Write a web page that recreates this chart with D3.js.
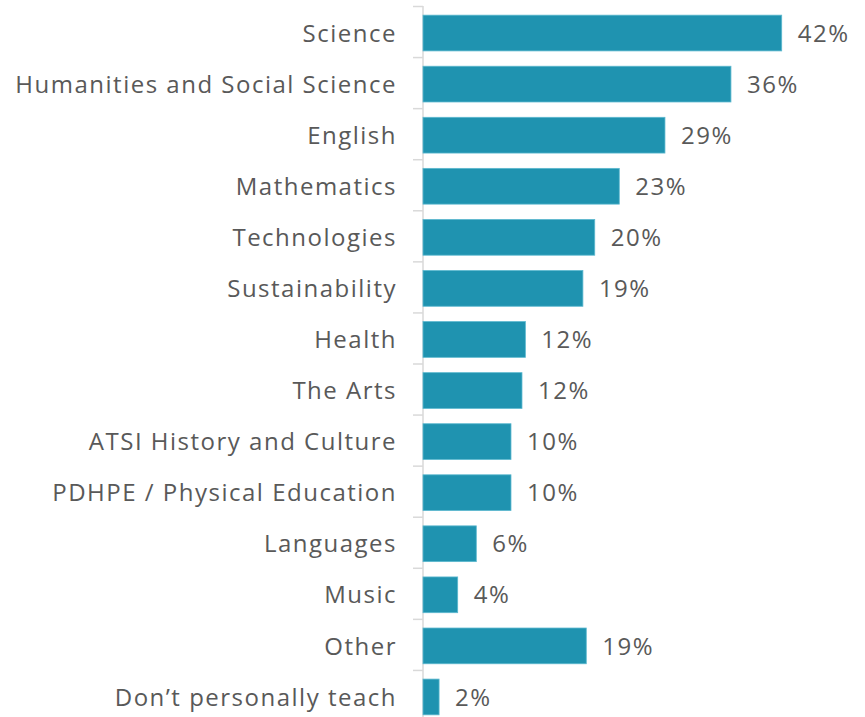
<!DOCTYPE html>
<html>
<head>
<meta charset="utf-8">
<script src="https://cdn.jsdelivr.net/npm/d3@7"></script>
<style>
  body { margin: 0; background: #fff; }
  text { font-family: "Open Sans", "Liberation Sans", Arial, sans-serif; fill: #595959; letter-spacing: 1.5px; }
</style>
</head>
<body>
<svg id="chart"></svg>
<script>
const subjects = [
  'Science', 'Humanities and Social Science', 'English', 'Mathematics',
  'Technologies', 'Sustainability', 'Health', 'The Arts',
  'ATSI History and Culture', 'PDHPE / Physical Education', 'Languages',
  'Music', 'Other', 'Don\u2019t personally teach'
];
const shares = [42.4, 36.4, 28.6, 23.2, 20.3, 18.9, 12.1, 11.7, 10.4, 10.4, 6.3, 4.1, 19.3, 1.9];

const width = 865, height = 717;
const svg = d3.select('#chart').attr('width', width).attr('height', height);

const x = d3.scaleLinear().domain([0, 45]).range([423, 423 + 45 * 8.46]);
const y = d3.scaleBand().domain(subjects).range([6.5, 721.5]).paddingInner(0.3).paddingOuter(0.15);

// axis line and separators between categories
const axisG = svg.append('g');
axisG.append('line')
  .attr('x1', 423).attr('x2', 423)
  .attr('y1', 6).attr('y2', height)
  .attr('stroke', '#d9d9d9').attr('stroke-width', 1.5);
axisG.selectAll('line.tick')
  .data(d3.range(subjects.length + 1))
  .enter()
  .append('line')
  .attr('class', 'tick')
  .attr('x1', 413).attr('x2', 423)
  .attr('y1', (i) => 6.5 + i * y.step())
  .attr('y2', (i) => 6.5 + i * y.step())
  .attr('stroke', '#d9d9d9').attr('stroke-width', 1.5);

const rows = subjects.map((s, i) => ({ subject: s, value: shares[i] }));

svg.append('g').selectAll('rect')
  .data(rows)
  .enter()
  .append('rect')
  .attr('x', x(0))
  .attr('y', (d) => y(d.subject) + 1)
  .attr('width', (d) => x(d.value) - x(0))
  .attr('height', y.bandwidth())
  .attr('fill', '#1f93b0')
  .attr('stroke', '#5cb8cf')
  .attr('stroke-width', 0.8);

svg.append('g').selectAll('text')
  .data(rows)
  .enter()
  .append('text')
  .attr('x', 397)
  .attr('y', (d) => y(d.subject) + 1 + y.bandwidth() / 2)
  .attr('dy', '0.36em')
  .attr('text-anchor', 'end')
  .attr('font-size', '24px')
  .text((d) => d.subject);

svg.append('g').selectAll('text')
  .data(rows)
  .enter()
  .append('text')
  .attr('x', (d) => x(d.value) + 16)
  .attr('y', (d) => y(d.subject) + 1 + y.bandwidth() / 2)
  .attr('dy', '0.36em')
  .attr('font-size', '24px')
  .text((d) => Math.round(d.value) + '%');
</script>
</body>
</html>
